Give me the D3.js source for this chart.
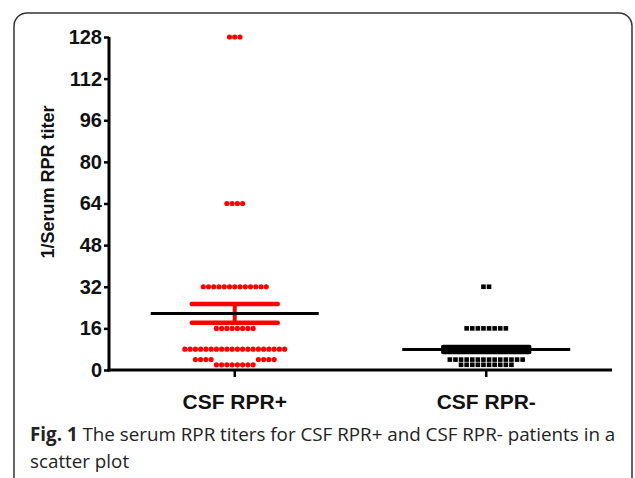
<!DOCTYPE html>
<html><head><meta charset="utf-8">
<script src="https://cdn.jsdelivr.net/npm/d3@7"></script>
<style>body{margin:0;background:#fff}svg{display:block}
.ar{font-family:"Liberation Sans",Arial,sans-serif;font-weight:bold}
.cap{font-family:"Open Sans",sans-serif}</style>
</head><body>
<svg id="c" width="635" height="478"></svg>
<script>
const categories = ["CSF RPR+", "CSF RPR-"];
// titer values and number of patients at each value
const posValues = [2, 4, 8, 16, 32, 64, 128];
const posCounts = [8, 8, 20, 8, 13, 4, 3];
const negValues = [2, 4, 8, 16, 32];
const negCounts = [10, 14, 16, 8, 2];
const yTicks = [0, 16, 32, 48, 64, 80, 96, 112, 128];
const yTitle = "1/Serum RPR titer";
const captionBold = "Fig. 1";
const captionLine1 = " The serum RPR titers for CSF RPR+ and CSF RPR- patients in a";
const captionLine2 = "scatter plot";

const svg = d3.select("#c");
const x = d3.scalePoint().domain(categories).range([109, 612]).padding(0.5);
const y = d3.scaleLinear().domain([0, 128]).range([370, 37]);

// frame
svg.append("rect").attr("x", 14).attr("y", 13).attr("width", 618).attr("height", 478)
  .attr("rx", 13).attr("fill", "none").attr("stroke", "#333").attr("stroke-width", 1.5);

// axes
const yAxis = d3.axisLeft(y).tickValues(yTicks).tickSize(5).tickPadding(2);
const gy = svg.append("g").attr("transform", "translate(109,0)").call(yAxis);
gy.attr("font-family", null).attr("font-size", null);
gy.select(".domain").attr("stroke", "#000").attr("stroke-width", 3).attr("d", "M0,37V371.5");
gy.selectAll(".tick line").attr("stroke", "#000").attr("stroke-width", 2.5);
gy.selectAll(".tick text").attr("class", "ar").style("font-size", "20px").attr("fill", "#111");

svg.append("line").attr("x1", 107.5).attr("x2", 612).attr("y1", y(0)).attr("y2", y(0))
  .attr("stroke", "#000").attr("stroke-width", 3);
categories.forEach(c => {
  svg.append("line").attr("x1", x(c)).attr("x2", x(c)).attr("y1", y(0)).attr("y2", y(0) + 7)
    .attr("stroke", "#000").attr("stroke-width", 2.5);
  svg.append("text").attr("class", "ar").attr("x", x(c)).attr("y", 409).attr("text-anchor", "middle")
    .style("font-size", "21px").attr("fill", "#111").text(c);
});

svg.append("text").attr("class", "ar").attr("transform", "translate(54,182) rotate(-90)").attr("text-anchor", "middle")
  .style("font-size", "18px").attr("fill", "#111").text(yTitle);

// scatter layout with collision avoidance
function layout(values, counts, cx, step, size) {
  const placed = [];
  values.forEach((v, i) => {
    const n = counts[i];
    const py = y(v);
    const half = n % 2 === 0 ? 0.5 : 0;
    const cands = [];
    for (let k = 0; k < 60; k++) {
      const o = k + half;
      if (o === 0) cands.push(0); else { cands.push(-o); cands.push(o); }
    }
    const row = [];
    for (const o of cands) {
      if (row.length >= n) break;
      const px = cx + o * step;
      const hit = placed.some(p => Math.hypot(p.x - px, p.y - py) < size - 0.01);
      if (!hit) row.push({x: px, y: py, v});
    }
    row.forEach(p => placed.push(p));
  });
  return placed;
}
function expand(values, counts) {
  const a = [];
  values.forEach((v, i) => { for (let k = 0; k < counts[i]; k++) a.push(v); });
  return a;
}
function stats(values, counts) {
  const a = expand(values, counts);
  const m = d3.mean(a);
  const se = d3.deviation(a) / Math.sqrt(a.length);
  return {m, se};
}

function drawSummary(cat, values, counts, color) {
  const s = stats(values, counts);
  const cx = x(cat);
  const g = svg.append("g");
  g.append("line").attr("x1", cx).attr("x2", cx).attr("y1", y(s.m + s.se)).attr("y2", y(s.m - s.se))
    .attr("stroke", color).attr("stroke-width", 4);
  [s.m + s.se, s.m - s.se].forEach(v => {
    g.append("line").attr("x1", cx - 43).attr("x2", cx + 43).attr("y1", y(v)).attr("y2", y(v))
      .attr("stroke", color).attr("stroke-width", 4.5).attr("stroke-linecap", "round");
  });
  g.append("line").attr("x1", cx - 84).attr("x2", cx + 84).attr("y1", y(s.m)).attr("y2", y(s.m))
    .attr("stroke", "#000").attr("stroke-width", 3);
}

const posPts = layout(posValues, posCounts, x(categories[0]), 5.25, 5.4);
const negPts = layout(negValues, negCounts, x(categories[1]), 5.6, 4.6);

svg.append("g").selectAll("circle").data(posPts).join("circle")
  .attr("cx", d => d.x).attr("cy", d => d.y).attr("r", 2.6).attr("fill", "#ff0000");
svg.append("g").selectAll("rect").data(negPts).join("rect")
  .attr("x", d => d.x - 2.3).attr("y", d => d.y - 2.3).attr("width", 4.6).attr("height", 4.6).attr("fill", "#000");

drawSummary(categories[0], posValues, posCounts, "#ff0000");
drawSummary(categories[1], negValues, negCounts, "#000");

// caption
const cap = svg.append("text").attr("class", "cap").attr("x", 30).attr("y", 441)
  .style("font-size", "18.8px").attr("fill", "#222");
cap.append("tspan").attr("font-weight", "bold").text(captionBold);
cap.append("tspan").text(captionLine1);
svg.append("text").attr("class", "cap").attr("x", 30).attr("y", 468)
  .style("font-size", "18.8px").attr("fill", "#222").text(captionLine2);
</script>
</body></html>
